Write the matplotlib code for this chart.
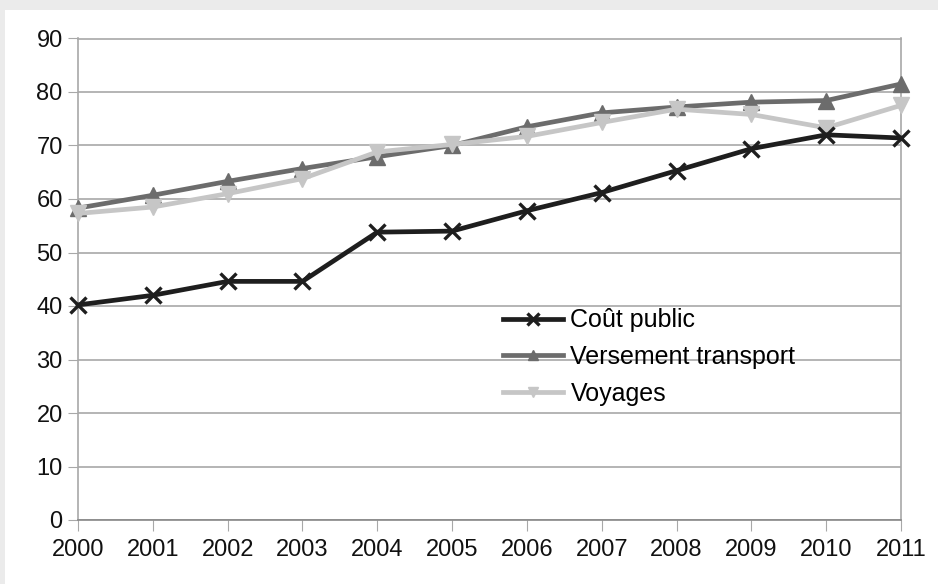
import matplotlib.pyplot as plt
from matplotlib.patches import Rectangle

plt.rcParams['font.family'] = ['Liberation Sans', 'DejaVu Sans']

years = [2000, 2001, 2002, 2003, 2004, 2005, 2006, 2007, 2008, 2009, 2010, 2011]
cout_public = [40.2, 42.0, 44.6, 44.6, 53.8, 54.0, 57.8, 61.2, 65.3, 69.4, 72.0, 71.4]
versement = [58.3, 60.7, 63.3, 65.7, 67.9, 70.0, 73.5, 76.1, 77.2, 78.1, 78.4, 81.5]
voyages = [57.3, 58.5, 61.0, 63.8, 68.8, 70.2, 71.7, 74.3, 76.8, 75.8, 73.3, 77.5]
yticks = list(range(0, 100, 10))

fig = plt.figure(figsize=(9.38, 5.84), dpi=100, facecolor='#ebebeb')
# white card inside the grey frame
card = Rectangle((5 / 938, 0), 1, 1 - 10 / 584, transform=fig.transFigure,
                 facecolor='white', edgecolor='none', zorder=-10)
fig.add_artist(card)

ax = fig.add_axes([78 / 938, 1 - 520 / 584, (901 - 78) / 938, (520 - 38.5) / 584])
ax.set_facecolor('white')

ax.plot(years, cout_public, color='#1e1e1e', lw=3.4, marker='x', ms=12, mew=2.4,
        label='Coût public', zorder=4, clip_on=False)
ax.plot(years, versement, color='#6c6c6c', lw=3.4, marker='^', ms=11,
        label='Versement transport', zorder=3, clip_on=False)
ax.plot(years, voyages, color='#c6c6c6', lw=3.4, marker='v', ms=11,
        label='Voyages', zorder=3, clip_on=False)

ax.set_xlim(2000, 2011)
ax.set_ylim(0, 90)
ax.set_xticks(years)
ax.set_yticks(yticks)
ax.grid(axis='y', color='#a8a8a8', lw=1.2)
ax.set_axisbelow(True)
for s in ['left', 'right', 'bottom', 'top']:
    ax.spines[s].set_color('#a8a8a8')
    ax.spines[s].set_linewidth(1.2)
ax.spines['bottom'].set_color('#888888')
ax.tick_params(axis='x', length=8, color='#a8a8a8', labelsize=17, pad=6)
ax.tick_params(axis='y', length=7, color='#a8a8a8', labelsize=17, pad=4)
for lbl in ax.get_xticklabels() + ax.get_yticklabels():
    lbl.set_color('#111111')

leg = ax.legend(loc='center left', bbox_to_anchor=(503 / 938, 1 - 357 / 584),
                bbox_transform=fig.transFigure, frameon=False, borderpad=0,
                borderaxespad=0, fontsize=18, handlelength=2.4, labelspacing=0.5,
                handletextpad=0.3, markerscale=0.7)

fig.savefig('out.png', dpi=100, facecolor=fig.get_facecolor())
